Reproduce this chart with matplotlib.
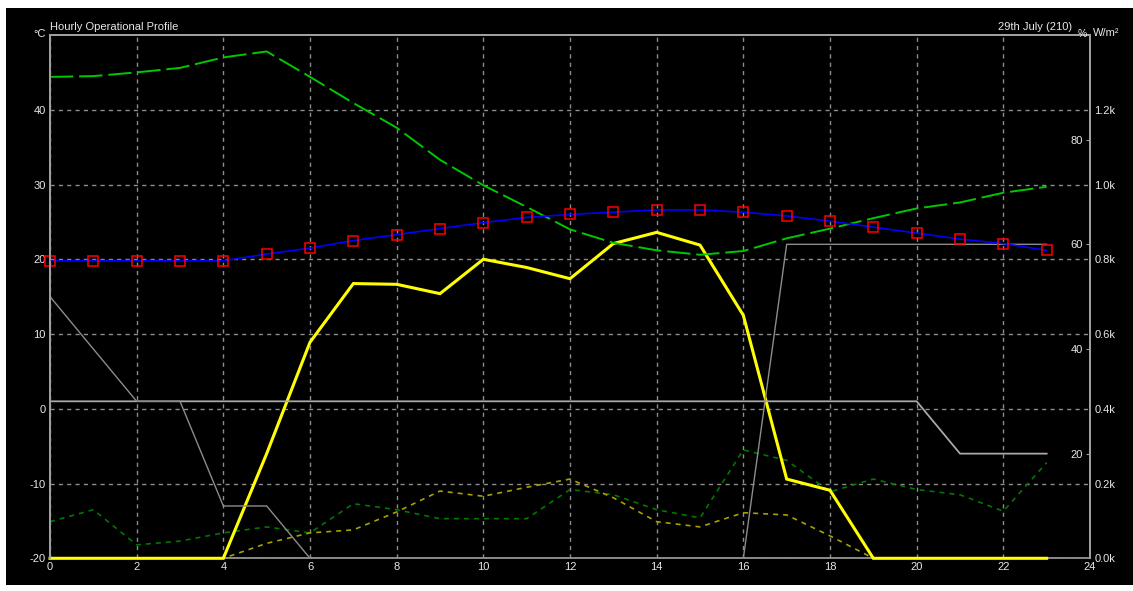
import numpy as np
import matplotlib
matplotlib.use("Agg")
import matplotlib.pyplot as plt
from matplotlib.patches import Rectangle

plt.rcParams['font.family'] = ['Liberation Sans', 'DejaVu Sans']
plt.rcParams['axes.unicode_minus'] = False

# ---------------- data (hours 0..23) ----------------
hours = list(range(24))

# degC series
outside_temp = [44.4, 44.5, 45.0, 45.6, 47.0, 47.8, 44.4, 40.9, 37.6, 33.3,
                29.9, 27.0, 24.0, 22.2, 21.2, 20.6, 21.1, 22.8, 24.1, 25.5,
                26.8, 27.6, 28.9, 29.7]
inside_temp = [19.8, 19.8, 19.8, 19.8, 19.8, 20.7, 21.5, 22.5, 23.3, 24.1,
               24.9, 25.6, 26.0, 26.3, 26.6, 26.6, 26.3, 25.8, 25.1, 24.3,
               23.5, 22.7, 22.1, 21.2]

# W/m2 series
solar_total = [0, 0, 0, 0, 0, 280, 578, 735, 733, 708,
               800, 778, 748, 842, 872, 838, 650, 212, 182, 0,
               0, 0, 0, 0]
solar_diffuse = [98, 130, 36, 46, 68, 84, 68, 146, 130, 106,
                 106, 106, 184, 170, 130, 108, 290, 262, 178, 212,
                 184, 170, 126, 256]
solar_direct = [0, 0, 0, 0, 0, 40, 68, 76, 124, 180,
                166, 190, 212, 162, 98, 84, 122, 116, 60, 0,
                0, 0, 0, 0]

# % series
pct_a = [30, 30, 30, 30, 30, 30, 30, 30, 30, 30,
         30, 30, 30, 30, 30, 30, 30, 30, 30, 30,
         30, 20, 20, 20]
pct_b = [50, 40, 30, 30, 10, 10, 0, 0, 0, 0,
         0, 0, 0, 0, 0, 0, 0, 60, 60, 60,
         60, 60, 60, 60]

x_ticks = list(range(0, 25, 2))
c_ticks = [-20, -10, 0, 10, 20, 30, 40]
w_ticks = [0, 200, 400, 600, 800, 1000, 1200]
w_labels = ['0.0k', '0.2k', '0.4k', '0.6k', '0.8k', '1.0k', '1.2k']
p_ticks = [20, 40, 60, 80]

# ---------------- figure ----------------
W, H = 1133, 591
fig = plt.figure(figsize=(W / 100, H / 100), dpi=100)
fig.patch.set_facecolor('white')
fig.patches.append(Rectangle((6 / W, 1 - 585 / H), 1 - 6 / W, (585 - 8) / H,
                             transform=fig.transFigure, facecolor='black',
                             edgecolor='none', zorder=-10))

rect = [50 / W, 1 - 558.3 / H, (1090 - 50) / W, (558.3 - 35) / H]
ax = fig.add_axes(rect)
ax_w = ax.twinx()
ax_p = ax.twinx()

txt = '#E8E8E8'
spine_c = '#A0A0A0'
grid_c = '#8C8C8C'

ax_w.set_zorder(1)
ax_p.set_zorder(2)
ax.set_zorder(3)
ax.patch.set_visible(False)
ax_p.patch.set_visible(False)
ax_w.patch.set_visible(True)
ax_w.patch.set_facecolor('black')

# W/m2 axis carries the grid (both directions)
ax_w.xaxis.set_visible(True)
ax_w.set_ylim(0, 1400)
ax_w.set_yticks(w_ticks)
ax_w.set_yticklabels(w_labels)
ax_w.set_xticks(x_ticks)
ax_w.grid(True, color=grid_c, linestyle=(0, (3, 3)), linewidth=1)
ax_w.tick_params(axis='y', length=0, pad=3, labelsize=8, labelcolor=txt)
ax_w.tick_params(axis='x', length=0, labelbottom=False, labeltop=False)

ax_w.plot(hours, solar_diffuse, color='#007800', lw=1.2, linestyle=(0, (3, 3)))
ax_w.plot(hours, solar_direct, color='#A8A000', lw=1.2, linestyle=(0, (3, 3)))
ax_w.plot(hours, solar_total, color='#FFFF00', lw=2.2, solid_joinstyle='miter',
          clip_on=False, zorder=3)

# % axis, labels inside the right spine
ax_p.set_ylim(0, 100)
ax_p.set_yticks(p_ticks)
ax_p.tick_params(axis='y', direction='in', length=3, pad=-5, labelsize=8,
                 labelcolor=txt, color=spine_c)
for lab in ax_p.get_yticklabels():
    lab.set_horizontalalignment('right')
ax_p.plot(hours, pct_a, color='#A8A8A8', lw=1.3)
ax_p.plot(hours, pct_b, color='#8C8C8C', lw=1.0)

# degC axis
ax.set_xlim(0, 24)
ax.set_ylim(-20, 50)
ax.set_xticks(x_ticks)
ax.set_yticks(c_ticks)
ax.tick_params(axis='both', length=0, pad=3, labelsize=8, labelcolor=txt)
ax.plot(hours, outside_temp, color='#00C800', lw=1.4, dashes=(12, 3))
ax.plot(hours, inside_temp, color='#0000FF', lw=1.2, marker='s', ms=7,
        mfc='none', mec='#FF0000', mew=1.1, clip_on=False)

for a in (ax, ax_w, ax_p):
    for s in a.spines.values():
        s.set_color(spine_c)
        s.set_linewidth(1.2)
# bottom spine only from the lowest axes so the yellow line sits on top of it
ax.spines['bottom'].set_visible(False)
ax_p.spines['bottom'].set_visible(False)

fig.text(50 / W, 1 - 27 / H, 'Hourly Operational Profile', color=txt,
         fontsize=8, ha='left', va='center')
fig.text(46 / W, 1 - 34 / H, '°C', color=txt, fontsize=8, ha='right', va='center')
fig.text(1072 / W, 1 - 27 / H, '29th July (210)', color=txt, fontsize=8,
         ha='right', va='center')
fig.text(1082 / W, 1 - 34 / H, '%', color=txt, fontsize=7.5, ha='center', va='center')
fig.text(1093 / W, 1 - 33 / H, 'W/m²', color=txt, fontsize=8, ha='left', va='center')

fig.savefig('out.png', dpi=100, facecolor=fig.get_facecolor())
